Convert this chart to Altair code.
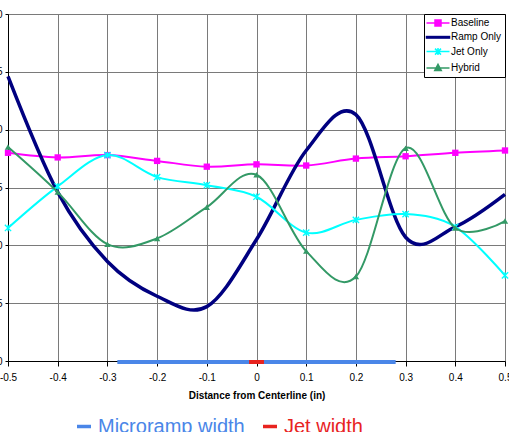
import altair as alt
import pandas as pd

# Lateral positions of the measurement stations (in)
positions = [-0.5, -0.4, -0.3, -0.2, -0.1, 0.0, 0.1, 0.2, 0.3, 0.4, 0.5]

# Measured profiles for each configuration
baseline = [18.0, 17.6, 17.8, 17.3, 16.8, 17.0, 16.9, 17.5, 17.7, 18.0, 18.2]
ramp_only = [24.6, 14.6, 8.6, 5.6, 4.7, 10.5, 18.2, 21.3, 10.7, 11.6, 14.4]
jet_only = [11.5, 15.1, 17.8, 15.9, 15.2, 14.2, 11.1, 12.2, 12.7, 11.6, 7.4]
hybrid = [18.5, 14.6, 10.1, 10.6, 13.3, 16.1, 9.5, 7.3, 18.4, 11.5, 12.1]

series_names = ["Baseline", "Ramp Only", "Jet Only", "Hybrid"]
series_values = [baseline, ramp_only, jet_only, hybrid]
series_colors = ["#ff00ff", "#000080", "#00ffff", "#339966"]
line_widths = [2, 3.5, 2, 2]
marker_shapes = ["square", None, "M-1,-1L1,1M-1,1L1,-1M0,-1V1", "triangle-up"]

# Legend glyphs: a short line segment with the series marker on it
legend_paths = [
    "M-2.3,0H2.3M-0.6,-0.6H0.6V0.6H-0.6Z",
    "M-2.3,-0.15H2.3V0.15H-2.3Z",
    "M-2.3,0H2.3M-0.6,-0.6L0.6,0.6M-0.6,0.6L0.6,-0.6M0,-0.7V0.7",
    "M-2.3,0H2.3M0,-0.7L0.65,0.5H-0.65Z",
]

# Spans of the hardware drawn along the axis
span_names = ["Microramp width", "Jet width"]
span_start = [-0.28, -0.015]
span_end = [0.28, 0.015]
span_colors = ["#4a86e8", "#e8231f"]

y_ticks = [0, 5, 10, 15, 20, 25, 30]

rows = []
for name, vals in zip(series_names, series_values):
    for p, v in zip(positions, vals):
        rows.append({"series": name, "pos": p, "value": v})
profiles = pd.DataFrame(rows)

spans = pd.DataFrame({"span": span_names, "start": span_start,
                      "end": span_end, "zero": [0, 0]})

FONT = "Liberation Sans"

x_scale = alt.Scale(domain=[-0.5, 0.5], nice=False, zero=False)
y_scale = alt.Scale(domain=[0, 30], nice=False)

x_axis = alt.Axis(
    values=positions,
    labelExpr="toString(round(datum.value * 10) / 10)",
    grid=True, gridColor="#7a7a7a", gridWidth=1,
    domainColor="#000000", domainWidth=1,
    tickColor="#000000", tickSize=5,
    labelFontSize=10, labelFont=FONT, labelColor="#000000",
    labelPadding=6, labelFlush=False, labelOverlap=False,
    titleFont=FONT, titleFontSize=10, titleFontWeight="bold",
    titleColor="#000000", titlePadding=8,
)
y_axis = alt.Axis(
    values=y_ticks,
    grid=True, gridColor="#7a7a7a", gridWidth=1,
    domainColor="#000000", domainWidth=1,
    tickColor="#000000", tickSize=3,
    labelFontSize=10, labelFont=FONT, labelColor="#000000",
    labelPadding=3, labelFlush=False,
)

x_enc = alt.X("pos:Q", scale=x_scale, axis=x_axis,
              title="Distance from Centerline (in)")
y_enc = alt.Y("value:Q", scale=y_scale, axis=y_axis, title=None)

base = alt.Chart(profiles)

layers = []
for name, color, width, shape in zip(series_names, series_colors,
                                     line_widths, marker_shapes):
    one = base.transform_filter(alt.datum.series == name)
    layers.append(
        one.mark_line(interpolate="cardinal", tension=0, color=color,
                      strokeWidth=width).encode(x=x_enc, y=y_enc)
    )
    if shape is not None:
        if shape.startswith("M"):
            pts = one.mark_point(shape=shape, size=40, filled=False,
                                 color=color, strokeWidth=1.3, opacity=1)
        else:
            pts = one.mark_point(shape=shape, size=40, filled=True,
                                 color=color, opacity=1)
        layers.append(pts.encode(x=x_enc, y=y_enc))

# Series legend (top right, boxed)
series_legend = alt.Legend(
    orient="none", legendX=416, legendY=0, title=None,
    padding=3, strokeColor="#000000", fillColor="#ffffff",
    symbolSize=100, symbolStrokeWidth=1.5, symbolOffset=5,
    symbolOpacity=1,
    labelFont=FONT, labelFontSize=10, labelColor="#000000",
    labelOffset=7, rowPadding=2.3,
)
legend_layer = base.transform_filter("false").mark_point(opacity=1).encode(
    x=x_enc, y=y_enc,
    fill=alt.Fill("series:N", scale=alt.Scale(domain=series_names,
                                              range=series_colors),
                  legend=series_legend),
    stroke=alt.Stroke("series:N", scale=alt.Scale(domain=series_names,
                                                  range=series_colors),
                      legend=series_legend),
    shape=alt.Shape("series:N", scale=alt.Scale(domain=series_names,
                                                range=legend_paths),
                    legend=series_legend),
)
layers.append(legend_layer)

# Hardware spans along the axis, with their own legend below the chart
span_legend = alt.Legend(
    orient="none", legendX=66, legendY=402.5, direction="horizontal",
    title=None, padding=0, symbolType="stroke", symbolSize=196,
    symbolStrokeWidth=3.5, symbolOpacity=1,
    labelFont=FONT, labelFontSize=20,
    labelOffset=4, columnPadding=11,
    labelColor={"expr": "datum.value == 'Jet width' ? '#e8231f' : '#4a86e8'"},
)
span_layer = alt.Chart(spans).mark_rule(strokeWidth=4, yOffset=1).encode(
    x=alt.X("start:Q", scale=x_scale, axis=x_axis,
            title="Distance from Centerline (in)"),
    x2="end:Q",
    y=alt.Y("zero:Q", scale=y_scale, axis=y_axis, title=None),
    color=alt.Color("span:N", scale=alt.Scale(domain=span_names,
                                              range=span_colors),
                    legend=span_legend),
)
layers.append(span_layer)

chart = alt.layer(*layers).properties(
    width=497, height=347,
    padding={"left": 8, "top": 14, "right": 4, "bottom": 71},
    autosize=alt.AutoSizeParams(type="none"),
    background="#ffffff",
).configure_view(stroke=None).configure(font=FONT)

chart.save("out.html", embed_options={"renderer": "svg", "actions": False})
